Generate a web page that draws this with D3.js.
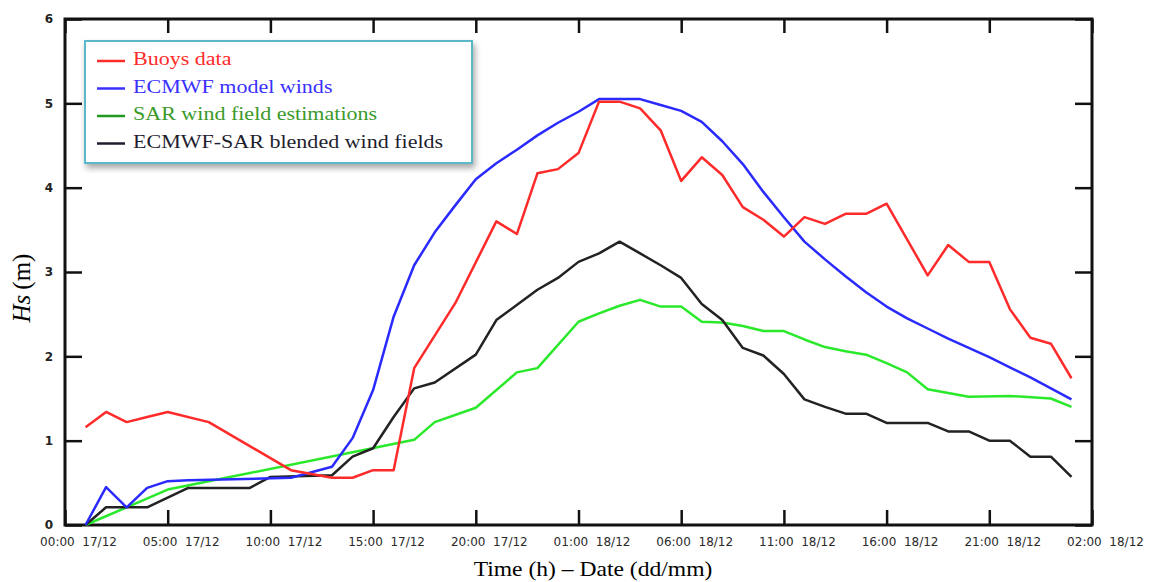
<!DOCTYPE html>
<html>
<head>
<meta charset="utf-8">
<script src="https://cdn.jsdelivr.net/npm/d3@7"></script>
<style>
  body { margin: 0; background: #fff; }
  svg { display: block; }
</style>
</head>
<body>
<svg width="1149" height="582"></svg>
<script>
// hours since 00:00 17/12 and significant wave height (m)
var buoysHours = [1, 2, 3, 4, 5, 7, 11, 13, 14, 15, 16, 17, 19, 21, 22, 23, 24, 25, 26, 27, 28, 29, 30, 31, 32, 33, 34, 35, 36, 37, 38, 39, 40, 42, 43, 44, 45, 46, 47, 48, 49];
var buoysHs    = [1.16, 1.34, 1.22, 1.28, 1.34, 1.22, 0.65, 0.56, 0.56, 0.65, 0.65, 1.86, 2.63, 3.6, 3.45, 4.17, 4.22, 4.41, 5.02, 5.02, 4.94, 4.68, 4.08, 4.36, 4.15, 3.77, 3.62, 3.42, 3.65, 3.57, 3.69, 3.69, 3.81, 2.96, 3.32, 3.12, 3.12, 2.56, 2.22, 2.15, 1.74];

var ecmwfHours = [1, 2, 3, 4, 5, 6, 11, 13, 14, 15, 16, 17, 18, 19, 20, 21, 22, 23, 24, 25, 26, 28, 29, 30, 31, 32, 33, 34, 35, 36, 37, 38, 39, 40, 41, 42, 43, 44, 45, 46, 47, 48, 49];
var ecmwfHs    = [0, 0.45, 0.21, 0.44, 0.52, 0.53, 0.56, 0.69, 1.03, 1.6, 2.47, 3.08, 3.47, 3.79, 4.1, 4.29, 4.45, 4.62, 4.77, 4.9, 5.05, 5.05, 4.98, 4.91, 4.78, 4.55, 4.28, 3.95, 3.65, 3.36, 3.15, 2.95, 2.76, 2.59, 2.45, 2.33, 2.21, 2.1, 1.99, 1.87, 1.75, 1.62, 1.49];

var sarHours = [1, 3, 5, 17, 18, 20, 22, 23, 25, 26, 27, 28, 29, 30, 31, 32, 33, 34, 35, 36, 37, 38, 39, 40, 41, 42, 44, 46, 48, 49];
var sarHs    = [0, 0.21, 0.42, 1.01, 1.22, 1.39, 1.81, 1.86, 2.41, 2.51, 2.6, 2.67, 2.59, 2.59, 2.41, 2.4, 2.36, 2.3, 2.3, 2.2, 2.11, 2.06, 2.02, 1.92, 1.81, 1.61, 1.52, 1.53, 1.5, 1.4];

var blendHours = [1, 2, 4, 6, 9, 10, 13, 14, 15, 16, 17, 18, 20, 21, 23, 24, 25, 26, 27, 28, 29, 30, 31, 32, 33, 34, 35, 36, 37, 38, 39, 40, 42, 43, 44, 45, 46, 47, 48, 49];
var blendHs    = [0, 0.21, 0.21, 0.44, 0.44, 0.57, 0.59, 0.81, 0.91, 1.28, 1.62, 1.69, 2.02, 2.43, 2.79, 2.93, 3.12, 3.22, 3.36, 3.22, 3.08, 2.93, 2.62, 2.43, 2.1, 2.01, 1.79, 1.49, 1.4, 1.32, 1.32, 1.21, 1.21, 1.11, 1.11, 1.0, 1.0, 0.81, 0.81, 0.57];

var seriesNames = ["Buoys data", "ECMWF model winds", "SAR wind field estimations", "ECMWF-SAR blended wind fields"];

var xTickHours  = [0, 5, 10, 15, 20, 25, 30, 35, 40, 45, 50];
var xTickLabels = ["00:00  17/12", "05:00  17/12", "10:00  17/12", "15:00  17/12", "20:00  17/12", "01:00  18/12",
                   "06:00  18/12", "11:00  18/12", "16:00  18/12", "21:00  18/12", "02:00  18/12"];
var yTicks = [0, 1, 2, 3, 4, 5, 6];

var svg = d3.select("svg");
var plot = { left: 65, right: 1092, top: 19, bottom: 525 };

var x = d3.scaleLinear().domain([0, 50]).range([plot.left, plot.right]);
var y = d3.scaleLinear().domain([0, 6]).range([plot.bottom, plot.top]);

var defs = svg.append("defs");
var f = defs.append("filter").attr("id", "shadow")
  .attr("x", "-10%").attr("y", "-10%").attr("width", "130%").attr("height", "140%");
f.append("feDropShadow").attr("dx", 2).attr("dy", 4).attr("stdDeviation", 3)
  .attr("flood-color", "#000").attr("flood-opacity", 0.35);

// axes, ticks pointing inward
var xAxis = svg.append("g")
  .attr("transform", "translate(0," + plot.bottom + ")")
  .call(d3.axisBottom(x).tickValues(xTickHours).tickSizeInner(-15).tickSizeOuter(0).tickPadding(12)
    .tickFormat(function(d, i) { return xTickLabels[i]; }));
xAxis.selectAll("text")
  .attr("dx", 13)
  .style("font-family", "DejaVu Sans, sans-serif").style("font-size", "12px").attr("fill", "#2a2a2a")
  .style("white-space", "pre");

svg.append("g")
  .attr("transform", "translate(0," + plot.top + ")")
  .call(d3.axisTop(x).tickValues(xTickHours).tickSizeInner(-14).tickSizeOuter(0).tickFormat(""));

var yAxis = svg.append("g")
  .attr("transform", "translate(" + plot.left + ",0)")
  .call(d3.axisLeft(y).tickValues(yTicks).tickSizeInner(-17).tickSizeOuter(0).tickPadding(12).tickFormat(d3.format("d")));
yAxis.selectAll("text")
  .style("font-family", "DejaVu Sans, sans-serif").style("font-size", "12px").style("font-weight", "bold").attr("fill", "#222");

svg.append("g")
  .attr("transform", "translate(" + plot.right + ",0)")
  .call(d3.axisRight(y).tickValues(yTicks).tickSizeInner(-17).tickSizeOuter(0).tickFormat(""));

svg.selectAll(".domain").remove();
svg.selectAll(".tick line").attr("stroke", "#111").attr("stroke-width", 2.5);

svg.append("rect")
  .attr("x", plot.left).attr("y", plot.top)
  .attr("width", plot.right - plot.left).attr("height", plot.bottom - plot.top)
  .attr("fill", "none").attr("stroke", "#111").attr("stroke-width", 3);

// series lines
var line = d3.line()
  .x(function(d) { return x(d[0]); })
  .y(function(d) { return y(d[1]); });

function pairs(h, v) { return h.map(function(d, i) { return [d, v[i]]; }); }

var series = [
  { name: seriesNames[0], data: pairs(buoysHours, buoysHs), color: "#ff2a2a" },
  { name: seriesNames[1], data: pairs(ecmwfHours, ecmwfHs), color: "#2a2aff" },
  { name: seriesNames[2], data: pairs(sarHours, sarHs), color: "#2ae82a" },
  { name: seriesNames[3], data: pairs(blendHours, blendHs), color: "#222222" }
];

svg.append("g").selectAll("path")
  .data([series[2], series[3], series[1], series[0]])
  .enter().append("path")
    .attr("d", function(d) { return line(d.data); })
    .attr("fill", "none")
    .attr("stroke", function(d) { return d.color; })
    .attr("stroke-width", 2.5)
    .attr("stroke-linejoin", "round");

// legend
var legendColors = ["#ff2a2a", "#3a30ff", "#3a9a2a", "#1e1e2e"];
var legend = svg.append("g").attr("transform", "translate(85,41)");
legend.append("rect")
  .attr("width", 387).attr("height", 122)
  .attr("fill", "#fff").attr("stroke", "#5bb7c9").attr("stroke-width", 2)
  .attr("filter", "url(#shadow)");
var item = legend.selectAll(".item")
  .data(seriesNames)
  .enter().append("g")
    .attr("transform", function(d, i) { return "translate(0," + (20 + i * 27.5) + ")"; });
item.append("line")
  .attr("x1", 12).attr("x2", 40)
  .attr("stroke", function(d, i) { return i === 2 ? "#1f9a1f" : legendColors[i]; })
  .attr("stroke-width", 2.5);
item.append("text")
  .attr("transform", "translate(48,4) scale(1.13,1)")
  .text(function(d) { return d; })
  .style("font-family", "Liberation Serif, serif").style("font-size", "19.5px")
  .attr("fill", function(d, i) { return legendColors[i]; });

// axis titles
svg.append("text")
  .attr("transform", "translate(593,576) scale(1.15,1)")
  .attr("text-anchor", "middle")
  .style("font-family", "Liberation Serif, serif").style("font-size", "20.5px")
  .text("Time (h) \u2013 Date (dd/mm)");

var yTitle = svg.append("text")
  .attr("transform", "translate(30,288) rotate(-90)")
  .attr("text-anchor", "middle")
  .style("font-family", "Liberation Serif, serif").style("font-size", "25px");
yTitle.append("tspan").style("font-style", "italic").text("Hs");
yTitle.append("tspan").attr("dx", 5).text("(m)");
</script>
</body>
</html>
